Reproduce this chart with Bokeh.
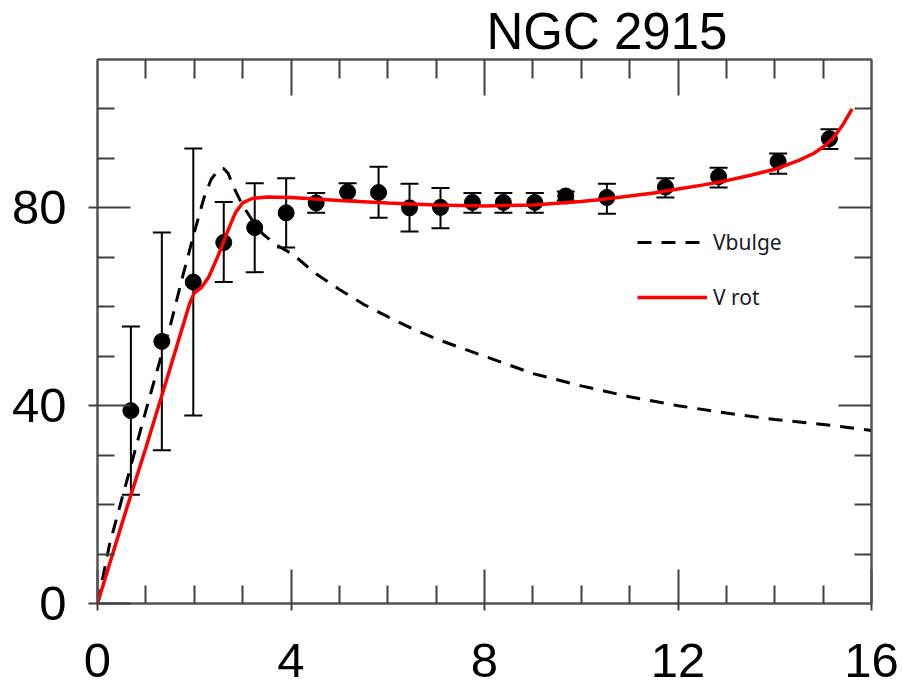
from bokeh.plotting import figure
from bokeh.models import (Range1d, FixedTicker, LinearAxis, Whisker, ColumnDataSource,
                          Legend, LegendItem, TeeHead, CustomJSTickFormatter)
from bokeh.embed import file_html
from bokeh.resources import INLINE

# ---------------- data ----------------
title_text = "NGC 2915"

# observed rotation velocities
obs_r = [0.69, 1.33, 1.98, 2.61, 3.25, 3.90, 4.52, 5.17, 5.81, 6.45,
         7.09, 7.75, 8.39, 9.04, 9.68, 10.53, 11.74, 12.84, 14.07, 15.13]
obs_v = [39.0, 53.0, 65.0, 73.0, 76.0, 79.0, 81.0, 83.2, 83.1, 80.0,
         80.1, 81.1, 81.1, 81.1, 82.4, 82.1, 84.2, 86.3, 89.4, 94.0]
obs_lo = [22.0, 31.0, 38.0, 65.0, 67.0, 72.0, 79.0, 81.5, 78.0, 75.2,
          75.9, 79.0, 79.0, 79.0, 81.5, 78.8, 82.1, 84.1, 86.9, 91.9]
obs_hi = [56.0, 75.0, 92.0, 81.2, 85.0, 86.0, 83.0, 85.0, 88.3, 84.9,
          84.0, 83.0, 83.0, 83.0, 83.3, 84.9, 86.0, 88.1, 91.0, 95.9]

# bulge model curve
bulge_r = [0, 0.25, 0.5, 0.75, 1.0, 1.33, 1.5, 1.77, 2.0, 2.2, 2.35, 2.5, 2.6, 2.7,
           2.8, 3.0, 3.2, 3.42, 3.7, 4.04, 4.5, 5.0, 5.5, 6.0, 6.5, 7.0, 8.0, 9.0,
           10.0, 11.0, 12.0, 13.0, 14.0, 15.0, 16.0]
bulge_v = [0, 12.0, 21.0, 30.0, 39.0, 50.5, 56.0, 66.5, 75.0, 82.0, 85.8, 87.6, 88.0, 87.0,
           84.5, 80.5, 77.5, 74.7, 72.5, 70.6, 66.8, 63.5, 60.5, 58.0, 55.6, 53.5, 50.0, 46.5,
           44.0, 41.8, 40.0, 38.5, 37.2, 36.2, 35.0]

# total rotation model curve
rot_r = [0, 0.5, 1.0, 1.5, 1.9, 2.0, 2.15, 2.3, 2.5, 2.7, 2.85, 3.0, 3.2, 3.5, 4.0,
         5.0, 6.0, 7.0, 8.0, 9.0, 10.0, 10.5, 11.0, 11.5, 12.0, 12.5, 13.0, 13.5,
         14.0, 14.5, 14.8, 15.0, 15.2, 15.4, 15.6]
rot_v = [0, 16.0, 31.5, 47.5, 60.5, 62.8, 63.9, 66.0, 70.5, 75.5, 79.0, 81.0, 81.9, 82.2, 82.1,
         81.5, 81.0, 80.6, 80.4, 80.6, 81.3, 81.8, 82.4, 83.0, 83.8, 84.6, 85.5, 86.6,
         87.8, 89.6, 91.0, 92.3, 94.0, 96.7, 100.0]

x_major = [0, 4, 8, 12, 16]
x_minor = [1, 2, 3, 5, 6, 7, 9, 10, 11, 13, 14, 15]
y_major = [0, 40, 80]
y_minor = [10, 20, 30, 50, 60, 70, 90, 100]
y_outer = [20, 60, 100]

# ---------------- figure ----------------
FONT = "Liberation Sans"
FRAME = "#555555"
TICK = "#404040"

p = figure(width=902, height=688, x_range=Range1d(0, 16), y_range=Range1d(0, 110),
           output_backend="svg", toolbar_location=None,
           x_axis_location=None, y_axis_location=None,
           min_border_left=97, min_border_right=31, min_border_top=57, min_border_bottom=85)
p.xgrid.visible = False
p.ygrid.visible = False
p.outline_line_color = FRAME
p.outline_line_width = 2
p.background_fill_color = "white"
p.border_fill_color = "white"

p.title.text = title_text
p.title.text_font = FONT
p.title.text_font_size = "51px"
p.title.text_font_style = "normal"
p.title.text_color = "black"
p.title.align = "left"
p.title.offset = 389
p.title.standoff = 0

BLANK = CustomJSTickFormatter(code="return ''")


def style(ax, labels=True):
    ax.axis_line_color = FRAME
    ax.axis_line_width = 2
    ax.major_tick_line_color = TICK
    ax.major_tick_line_width = 2
    ax.minor_tick_line_color = TICK
    ax.minor_tick_line_width = 2
    if labels:
        ax.major_label_text_font = FONT
        ax.major_label_text_font_size = "49px"
        ax.major_label_text_color = "black"
    else:
        ax.formatter = BLANK
        ax.major_label_text_font_size = "1px"
        ax.major_label_standoff = 0


xb = LinearAxis(ticker=FixedTicker(ticks=x_major, minor_ticks=x_minor),
                major_tick_in=34, major_tick_out=7, minor_tick_in=18, minor_tick_out=0,
                major_label_standoff=33)
style(xb)
p.add_layout(xb, "below")

yl = LinearAxis(ticker=FixedTicker(ticks=y_major, minor_ticks=y_minor),
                major_tick_in=33, major_tick_out=9, minor_tick_in=17, minor_tick_out=0,
                major_label_standoff=22)
style(yl)
p.add_layout(yl, "left")

xt = LinearAxis(ticker=FixedTicker(ticks=x_major[1:-1], minor_ticks=x_minor),
                major_tick_in=36, major_tick_out=0, minor_tick_in=19, minor_tick_out=0)
style(xt, labels=False)
p.add_layout(xt, "above")

yr = LinearAxis(ticker=FixedTicker(ticks=y_major[1:], minor_ticks=y_minor),
                major_tick_in=33, major_tick_out=0, minor_tick_in=17, minor_tick_out=0)
style(yr, labels=False)
p.add_layout(yr, "right")

# short outward ticks on the left edge at 20, 60, 100
yo = LinearAxis(ticker=FixedTicker(ticks=y_outer, minor_ticks=[]), fixed_location=0,
                major_tick_in=9, major_tick_out=0, minor_tick_in=0, minor_tick_out=0)
style(yo, labels=False)
yo.axis_line_color = None
p.add_layout(yo, "right")

# ---------------- data marks ----------------
src = ColumnDataSource(dict(r=obs_r, v=obs_v, lo=obs_lo, hi=obs_hi))
wh = Whisker(source=src, base="r", lower="lo", upper="hi", dimension="height",
             line_color="black", line_width=2,
             upper_head=TeeHead(size=18, line_width=2, line_color="black"),
             lower_head=TeeHead(size=18, line_width=2, line_color="black"))
p.add_layout(wh)
p.scatter("r", "v", source=src, size=16, color="black")

bulge = p.line(bulge_r, bulge_v, line_color="black", line_width=3, line_dash="14 10")
rot = p.line(rot_r, rot_v, line_color="red", line_width=3.5)

legend = Legend(items=[LegendItem(label="Vbulge", renderers=[bulge]),
                       LegendItem(label="V rot", renderers=[rot])],
                location=(540, 292), glyph_width=70, glyph_height=20, label_height=20,
                spacing=27, padding=0, margin=0, border_line_color=None,
                background_fill_alpha=0, label_text_font="Noto Sans",
                label_text_font_size="21px", label_text_color="#1a1a2a", label_standoff=6)
p.add_layout(legend)

open("out.html", "w").write(file_html(p, INLINE))
